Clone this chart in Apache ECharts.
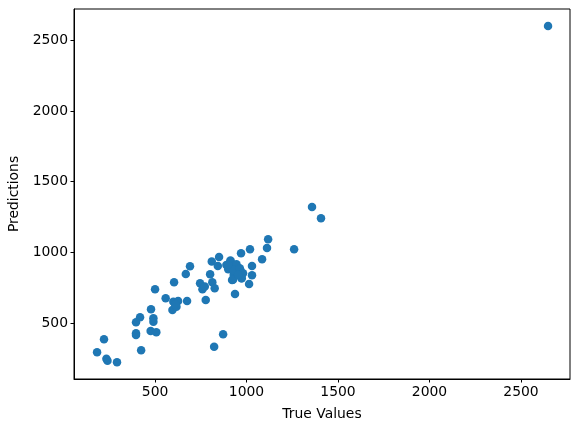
<!DOCTYPE html>
<html>
<head>
<meta charset="utf-8">
<script src="https://cdn.jsdelivr.net/npm/echarts@6/dist/echarts.min.js"></script>
<style>html,body{margin:0;padding:0;background:#fff}#c{width:580px;height:432px}</style>
</head>
<body>
<div id="c"></div>
<script>
var trueValues = [2648,1358,1407,1118,1112,1019,1260,970,1085,1030,1030,1014,937,974,921,850,810,843,913,890,926,951,966,945,972,930,900,691,668,801,604,500,746,759,772,813,826,777,558,600,626,595,617,675,610,478,418,396,491,491,396,396,476,507,872,823,424,221,183,234,240,292,912,945,926,963,981,926,972,954,899];
var predictions = [2601,1320,1241,1093,1030,1022,1021,993,950,903,838,775,705,816,804,966,934,903,937,910,897,886,874,860,852,840,880,901,846,844,787,738,780,738,757,788,745,662,674,650,655,592,615,655,630,596,540,504,533,509,426,415,443,434,420,332,306,384,292,247,233,221,941,915,875,887,852,805,817,840,911];
var xTicks = [500,1000,1500,2000,2500];
var yTicks = [500,1000,1500,2000,2500];

var pts = trueValues.map(function(v,i){return [v, predictions[i]];});
var chart = echarts.init(document.getElementById('c'), null, {renderer:'canvas'});
var font = 'DejaVu Sans';
function fmt(v){return String(v);}
chart.setOption({
  animation:false,
  grid:{left:74,right:10,top:9,bottom:53,containLabel:false,outerBoundsMode:'none',show:true,borderColor:'#000',borderWidth:1,backgroundColor:'transparent'},
  xAxis:{type:'value',min:57,max:2768,
    name:'True Values',nameLocation:'middle',nameGap:28,
    nameTextStyle:{fontFamily:font,fontSize:13.9,color:'#000'},
    axisLine:{show:true,onZero:false,lineStyle:{color:'#000',width:1}},
    axisTick:{show:true,length:3.5,lineStyle:{color:'#000'},customValues:xTicks},
    axisLabel:{fontFamily:font,fontSize:13.9,color:'#000',margin:6,customValues:xTicks,formatter:fmt},
    splitLine:{show:false}},
  yAxis:{type:'value',min:103,max:2722,
    name:'Predictions',nameLocation:'middle',nameGap:49,
    nameTextStyle:{fontFamily:font,fontSize:13.9,color:'#000'},
    axisLine:{show:true,onZero:false,lineStyle:{color:'#000',width:1}},
    axisTick:{show:true,length:3.5,lineStyle:{color:'#000'},customValues:yTicks},
    axisLabel:{fontFamily:font,fontSize:13.9,color:'#000',margin:6,customValues:yTicks,formatter:fmt},
    splitLine:{show:false}},
  series:[{type:'scatter',data:pts,symbol:'circle',symbolSize:8.5,
    itemStyle:{color:'#1f77b4',opacity:1}}]
});
</script>
</body>
</html>
